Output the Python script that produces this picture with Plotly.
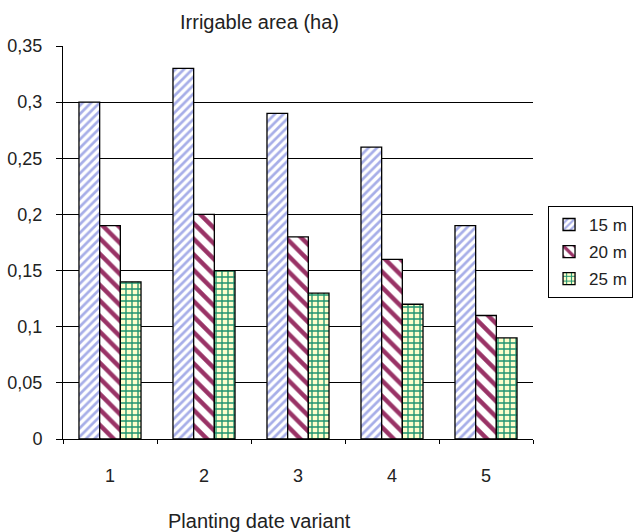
import plotly.graph_objects as go

categories = ["1", "2", "3", "4", "5"]
series_names = ["15 m", "20 m", "25 m"]
values_15m = [0.30, 0.33, 0.29, 0.26, 0.19]
values_20m = [0.19, 0.20, 0.18, 0.16, 0.11]
values_25m = [0.14, 0.15, 0.13, 0.12, 0.09]
y_tick_vals = [0, 0.05, 0.1, 0.15, 0.2, 0.25, 0.3, 0.35]
y_tick_text = ["0", "0,05", "0,1", "0,15", "0,2", "0,25", "0,3", "0,35"]

styles = [
    dict(shape="/", fgcolor="#a7aee8", bgcolor="#ffffff", size=6, solidity=0.45),
    dict(shape="\\", fgcolor="#993366", bgcolor="#ffffff", size=11, solidity=0.4),
    dict(shape="+", fgcolor="#1f9470", bgcolor="#ffffcc", size=6, solidity=0.4),
]

fig = go.Figure()
for name, vals, st in zip(series_names, [values_15m, values_20m, values_25m], styles):
    fig.add_trace(go.Bar(
        x=categories, y=vals, name=name, legendgroup=name,
        marker=dict(color=st["bgcolor"], line=dict(color="black", width=1.3),
                    pattern=dict(shape=st["shape"], fgcolor=st["fgcolor"],
                                 bgcolor=st["bgcolor"], size=st["size"],
                                 solidity=st["solidity"], fillmode="overlay",
                                 fgopacity=1)),
    ))

font = "Liberation Sans, Arial, sans-serif"
fig.update_layout(
    width=636, height=532,
    margin=dict(l=63, r=103, t=46, b=93, autoexpand=False),
    paper_bgcolor="white", plot_bgcolor="white",
    barmode="group", bargap=0.34, bargroupgap=0,
    font=dict(family=font, size=18, color="#222222"),
    showlegend=True,
    legend=dict(x=1.032, xanchor="left", y=0.476, yanchor="middle",
                bordercolor="black", borderwidth=1, font=dict(size=17),
                tracegroupgap=2, itemwidth=30),
    annotations=[
        dict(text="Irrigable area (ha)", x=0.419, y=1.061, xref="paper", yref="paper",
             xanchor="center", yanchor="middle", showarrow=False, font=dict(size=20)),
        dict(text="Planting date variant", x=0.419, y=-0.209, xref="paper", yref="paper",
             xanchor="center", yanchor="middle", showarrow=False, font=dict(size=20)),
    ],
)
fig.update_xaxes(type="category", showline=True, linecolor="black", linewidth=1,
                 ticks="outside", tickson="boundaries", ticklen=4, tickcolor="black",
                 showgrid=False, tickfont=dict(size=18), ticklabelstandoff=20)
fig.update_yaxes(range=[0, 0.35], tickvals=y_tick_vals, ticktext=y_tick_text,
                 showline=True, linecolor="black", linewidth=1,
                 ticks="outside", ticklen=6, tickcolor="black",
                 showgrid=True, gridcolor="black", gridwidth=1,
                 zeroline=False, tickfont=dict(size=18), ticklabelstandoff=10)

fig.write_html("out.html")
